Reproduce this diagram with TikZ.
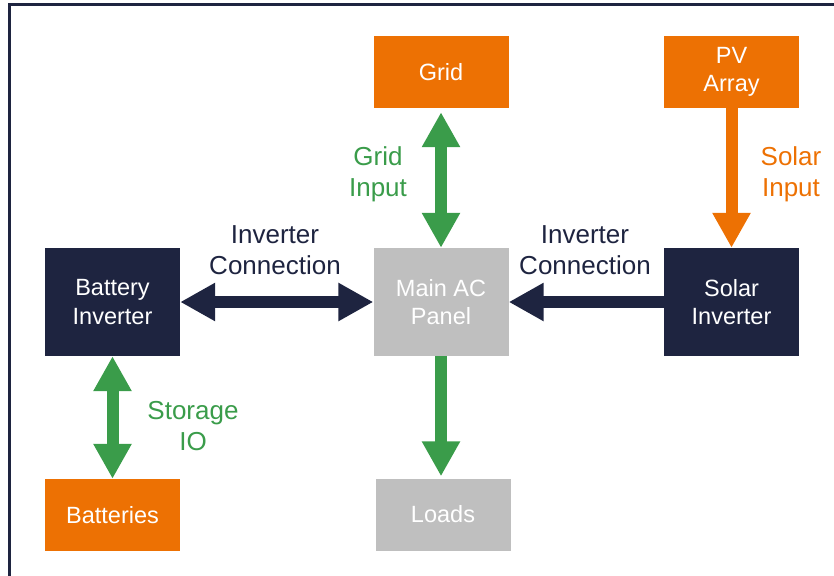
\documentclass[tikz,border=0pt]{standalone}
\usepackage{fontspec}
\setmainfont{Liberation Sans}
\usetikzlibrary{positioning, arrows.meta}
\definecolor{navy}{HTML}{1E2440}
\definecolor{pvorange}{HTML}{ED7103}
\definecolor{acgray}{HTML}{BFBFBF}
\definecolor{iogreen}{HTML}{3A9C4A}
\tikzset{
	box/.style={minimum width=135pt, inner sep=0pt, text=white, align=center,
		font=\fontsize{23.5}{28.5}\selectfont}, % common look of the blocks
	orangebox/.style={box, fill=pvorange, minimum height=72pt},
	graybox/.style={box, fill=acgray, minimum height=72pt},
	invbox/.style={box, fill=navy, minimum height=108pt},
	lbl/.style={align=center, font=\fontsize{26}{31}\selectfont}, % labels beside the arrows
	fat/.style={line width=12pt}, % body of the block arrows
	tip/.tip={Triangle[length=35pt, width=36pt]}, % big arrow head
}
\begin{document}
\begin{tikzpicture}[x=1pt, y=-1pt, node distance=230pt, on grid]
	\useasboundingbox (0,0) rectangle (834,575);
	\draw[navy, line width=3pt] (9.5,4.5) rectangle (900,650);

	% Blocks, placed around the AC panel
	\node[graybox, minimum height=108pt] (panel) at (441,302) {Main AC\\Panel};
	\node[orangebox, above=of panel] (grid) {Grid};
	\node[graybox, below=212.5pt of panel, xshift=2pt] (loads) {Loads};
	\node[invbox, left=328.5pt of panel] (batinv) {Battery\\Inverter};
	\node[invbox, right=290.5pt of panel] (solinv) {Solar\\Inverter};
	\node[orangebox, above=of solinv] (pv) {PV\\Array};
	\node[orangebox, below=213pt of batinv] (bats) {Batteries};

	% Connections
	\draw[fat, iogreen, tip-tip] ([yshift=-4pt]grid.south) -- (panel.north);
	\draw[fat, iogreen, -tip] (panel.south) -- ([xshift=-2pt,yshift=2pt]loads.north);
	\draw[fat, pvorange, -tip] (pv.south) -- (solinv.north);
	\draw[fat, navy, tip-tip] (batinv.east) -- (panel.west);
	\draw[fat, navy, -tip] (solinv.west) -- (panel.east);
	\draw[fat, iogreen, tip-tip] (batinv.south) -- (bats.north);

	% Labels
	\node[lbl, text=iogreen] (gridin) at (378,174) {Grid\\Input};
	\node[lbl, text=pvorange] (solarin) at (791,174) {Solar\\Input};
	\node[lbl, text=navy] (invconl) at (275,250) {Inverter\\Connection};
	\node[lbl, text=navy] (invconr) at (585,250) {Inverter\\Connection};
	\node[lbl, text=iogreen] (storio) at (193,426) {Storage\\IO};
\end{tikzpicture}
\end{document}
